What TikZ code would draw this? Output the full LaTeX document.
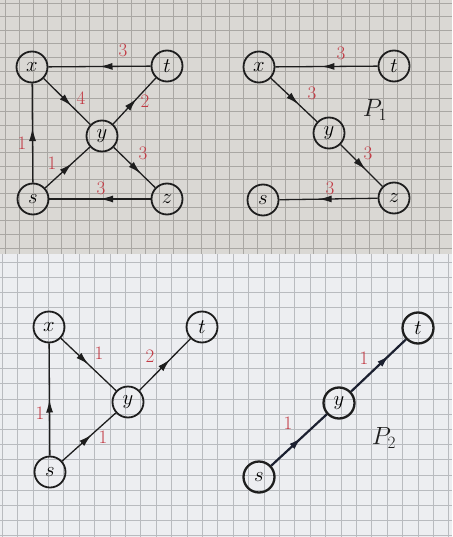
\documentclass[tikz,border=0pt]{standalone}
\usetikzlibrary{arrows.meta,decorations.markings}
\definecolor{papertop}{HTML}{DAD8D4}
\definecolor{paperbot}{HTML}{EDEEF1}
\definecolor{gridtop}{HTML}{A9A7A3}
\definecolor{gridbot}{HTML}{B9BBBF}
\definecolor{ink}{HTML}{1E1E1E}
\definecolor{navy}{HTML}{1C2030}
\definecolor{redink}{HTML}{C23A44}
\tikzset{
  vertex/.style={circle,draw=ink,fill=none,line width=1.8pt,minimum size=31pt,inner sep=0pt,font=\fontsize{21}{22}\selectfont},
  edge/.style={draw=ink,line width=1.3pt,postaction={decorate},
    decoration={markings,mark=at position #1 with {\arrow{Latex[length=13pt,width=7pt]}}}},
  edge/.default=0.55,
  thickedge/.style={edge=#1,draw=navy,line width=2.2pt},
  thickedge/.default=0.55,
  wlabel/.style={text=redink,font=\fontsize{19}{20}\selectfont},
  plabel/.style={text=ink,font=\fontsize{24}{26}\selectfont}
}
\begin{document}
\begin{tikzpicture}[x=1pt,y=-1pt]
\useasboundingbox (0,0) rectangle (452,537);
% paper
\fill[papertop] (0,0) rectangle (452,254);
\fill[paperbot] (0,254) rectangle (452,537);
\foreach \i in {0,...,32} {\draw[gridtop,line width=0.6pt] (5+\i*14,0) -- (5+\i*14,254);}
\foreach \j in {0,...,18} {\draw[gridtop,line width=0.6pt] (0,3+\j*13.6) -- (452,3+\j*13.6);}
\foreach \i in {0,...,29} {\draw[gridbot,line width=0.6pt] (2+\i*15.4,254) -- (2+\i*15.4,537);}
\foreach \j in {0,...,18} {\draw[gridbot,line width=0.6pt] (0,262+\j*15.2) -- (452,262+\j*15.2);}

% ---------- top-left graph ----------
\node[vertex] (ax) at (32,67) {$x$};
\node[vertex] (at) at (167,66) {$t$};
\node[vertex] (ay) at (102,136) {$y$};
\node[vertex] (as) at (33,199) {$s$};
\node[vertex] (az) at (167,199) {$z$};
\draw[edge=0.5] (at) -- (ax);
\draw[edge=0.6] (ax) -- (ay);
\draw[edge=0.55] (ay) -- (at);
\draw[edge=0.55] (as) -- (ax);
\draw[edge=0.6] (as) -- (ay);
\draw[edge=0.65] (ay) -- (az);
\draw[edge=0.5] (az) -- (as);
\node[wlabel] (aw1) at (123,50) {3};
\node[wlabel] (aw2) at (81,98) {4};
\node[wlabel] (aw3) at (145,101) {2};
\node[wlabel] (aw4) at (22,143) {1};
\node[wlabel] (aw5) at (52,163) {1};
\node[wlabel] (aw6) at (143,153) {3};
\node[wlabel] (aw7) at (101,188) {3};

% ---------- top-right graph ----------
\node[vertex] (bx) at (259,67) {$x$};
\node[vertex] (bt) at (394,66) {$t$};
\node[vertex] (by) at (329,133) {$y$};
\node[vertex] (bz) at (394,198) {$z$};
\node[vertex] (bs) at (263,200) {$s$};
\draw[edge=0.55] (bt) -- (bx);
\draw[edge=0.6] (bx) -- (by);
\draw[edge=0.6] (by) -- (bz);
\draw[edge=0.6] (bz) -- (bs);
\node[wlabel] (bw1) at (341,53) {3};
\node[wlabel] (bw2) at (312,93) {3};
\node[wlabel] (bw3) at (368,153) {3};
\node[wlabel] (bw4) at (330,188) {3};
\node[plabel] (p1) at (375,110) {$P_1$};

% ---------- bottom-left graph ----------
\node[vertex] (cx) at (49,327) {$x$};
\node[vertex] (ct) at (202,327) {$t$};
\node[vertex] (cy) at (128,402) {$y$};
\node[vertex] (cs) at (50,472) {$s$};
\draw[edge=0.5] (cs) -- (cx);
\draw[edge=0.5] (cx) -- (cy);
\draw[edge=0.6] (cy) -- (ct);
\draw[edge=0.55] (cs) -- (cy);
\node[wlabel] (cw1) at (40,413) {1};
\node[wlabel] (cw2) at (99,353) {1};
\node[wlabel] (cw3) at (150,356) {2};
\node[wlabel] (cw4) at (103,437) {1};

% ---------- bottom-right graph ----------
\node[vertex,line width=2.3pt] (ds) at (259,477) {$s$};
\node[vertex,line width=2.3pt] (dy) at (339,403) {$y$};
\node[vertex,line width=2.3pt] (dt) at (418,328) {$t$};
\draw[thickedge=0.55] (ds) -- (dy);
\draw[thickedge=0.7] (dy) -- (dt);
\node[wlabel] (dw1) at (288,423) {1};
\node[wlabel] (dw2) at (364,358) {1};
\node[plabel] (p2) at (384,438) {$P_2$};
\end{tikzpicture}
\end{document}
